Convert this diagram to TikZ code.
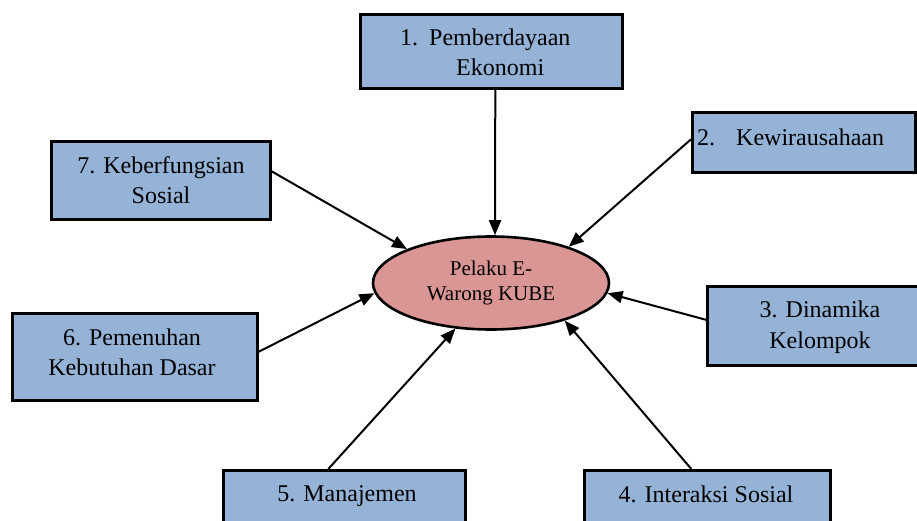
\documentclass[tikz,border=0pt]{standalone}
\usepackage{fontspec}
\setmainfont{Liberation Serif}
\usetikzlibrary{arrows.meta,shapes.geometric}
\definecolor{boxblue}{HTML}{95B3D7}
\definecolor{ellred}{HTML}{D99694}
\tikzset{
  boxnode/.style={draw=black, line width=2.6pt, fill=boxblue, rectangle, inner sep=0pt, anchor=north west},
  txt/.style={inner sep=0pt, font=\fontsize{24}{30}\selectfont},
  conn/.style={line width=2pt, -{Triangle[length=15pt,width=12pt]}},
}
\begin{document}
\begin{tikzpicture}[x=1pt,y=-1pt]
\useasboundingbox (0,0) rectangle (917,521);
\clip (0,0) rectangle (917,521);
% boxes
\node[boxnode, minimum width=262pt, minimum height=74pt] (B1) at (359,13) {};
\node[boxnode, minimum width=223pt, minimum height=60pt] (B2) at (691,111) {};
\node[boxnode, minimum width=220pt, minimum height=79pt] (B3) at (706,285) {};
\node[boxnode, minimum width=246pt, minimum height=70pt] (B4) at (583,469) {};
\node[boxnode, minimum width=242pt, minimum height=70pt] (B5) at (222,469) {};
\node[boxnode, minimum width=245pt, minimum height=87pt] (B6) at (11,312) {};
\node[boxnode, minimum width=219pt, minimum height=78pt] (B7) at (50,140) {};
% ellipse
\node[draw=black, line width=2.6pt, fill=ellred, ellipse, minimum width=236pt, minimum height=93pt, inner sep=0pt] (E) at (491,283) {};
% texts
\node[txt, anchor=north west, align=left] (T1) at (400,28.6) {1.\hspace{11pt}Pemberdayaan\\\hspace*{56pt}Ekonomi};
\node[txt, anchor=north west, align=left] (T2) at (697,128.6) {2.\hspace{21pt}Kewirausahaan};
\node[txt, anchor=north, align=center, font=\fontsize{24}{31}\selectfont] (T3) at (820,300.6) {3. Dinamika\\Kelompok};
\node[txt, anchor=north, align=center] (T4) at (706,485.6) {4. Interaksi Sosial};
\node[txt, anchor=north, align=center] (T5) at (347,485.6) {5. Manajemen};
\node[txt, anchor=north, align=center] (T6) at (132,328.6) {6. Pemenuhan\\Kebutuhan Dasar};
\node[txt, anchor=north, align=center] (T7) at (161,156.6) {7. Keberfungsian\\Sosial};
\node[inner sep=0pt, anchor=north, align=center, font=\fontsize{21}{25}\selectfont] (TE) at (491,260.7) {Pelaku E-\\Warong KUBE};
% connectors
\draw[conn] ([xshift=4pt]B1.south) -- ([xshift=4pt]E.north);
\draw[conn] ([yshift=3pt]B2.west) -- (E.25.7);
\draw[conn] ([yshift=6pt]B3.west) -- (E.-5);
\draw[conn] ([xshift=-16pt]B4.north) -- (E.-27);
\draw[conn] ([xshift=-16pt]B5.north) -- (E.232);
\draw[conn] ([yshift=5pt]B6.east) -- (E.185);
\draw[conn] ([yshift=9pt]B7.east) -- (E.158.5);
\end{tikzpicture}
\end{document}
